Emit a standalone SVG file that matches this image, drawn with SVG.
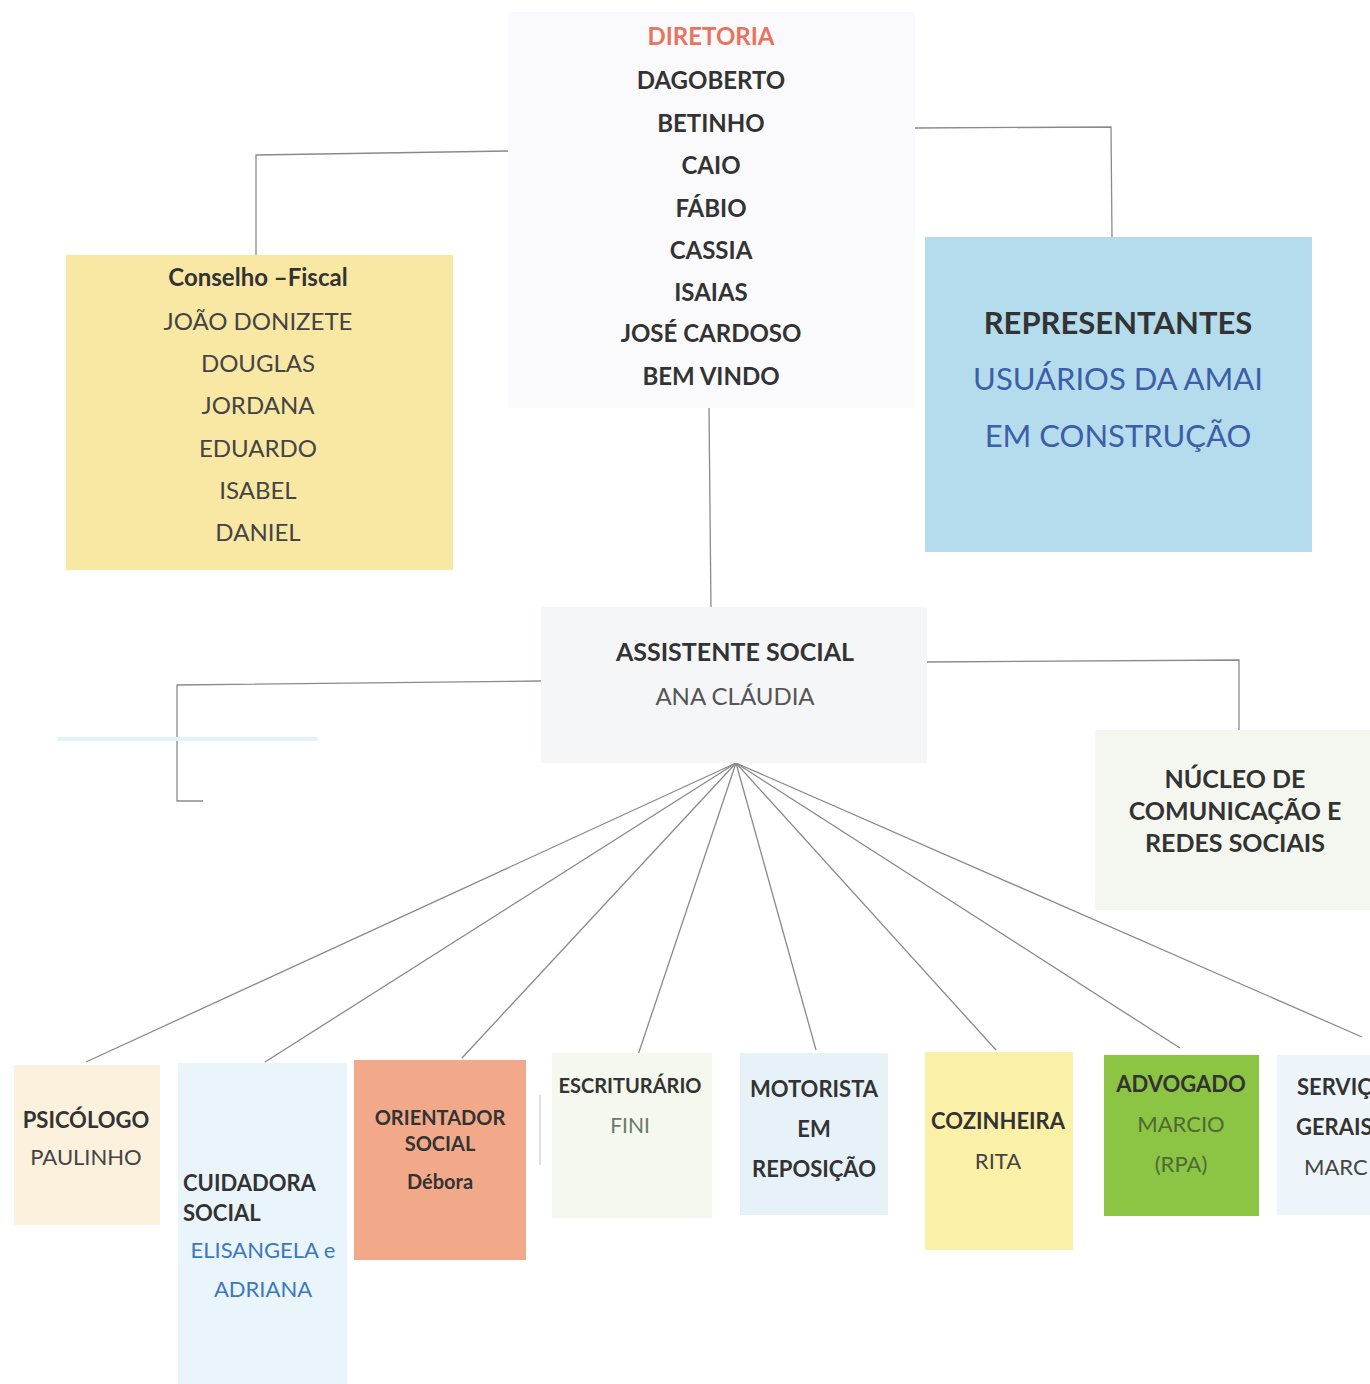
<svg xmlns="http://www.w3.org/2000/svg" width="1370" height="1384" viewBox="0 0 1370 1384">
<style>
text{font-family:Lato,"Open Sans","Liberation Sans",sans-serif;fill:#333;}
.c{text-anchor:middle;}
.b{font-weight:bold;}
.r{font-weight:normal;fill:#444;}
.f22{font-size:22px;}
.f24{font-size:24px;}
.conn line,.conn polyline{stroke:#8a8a8a;stroke-width:1.3;fill:none;}
</style>
<rect width="1370" height="1384" fill="#ffffff"/>
<g class="conn" id="connectors">
<polyline points="508,151 256,155 256,255"/>
<polyline points="915,128 1111,127 1112,237"/>
<line x1="709" y1="408" x2="711" y2="610"/>
<polyline points="541,681 177,685 177,801 203,801"/>
<polyline points="927,662 1239,660 1239,730"/>
<line x1="736" y1="763" x2="86" y2="1062"/>
<line x1="736" y1="763" x2="265" y2="1062"/>
<line x1="736" y1="763" x2="462" y2="1058"/>
<line x1="736" y1="763" x2="638" y2="1055"/>
<line x1="736" y1="763" x2="816" y2="1050"/>
<line x1="736" y1="763" x2="996" y2="1050"/>
<line x1="736" y1="763" x2="1180" y2="1048"/>
<line x1="736" y1="763" x2="1362" y2="1037"/>
<line x1="540" y1="1095" x2="540" y2="1165" style="stroke:#d0d0d0"/>
<line x1="57" y1="739" x2="318" y2="739" style="stroke:#e2f4fa;stroke-width:4"/>
</g>
<g id="diretoria">
<rect x="508" y="12" width="407" height="396" fill="#fafafc"/>
<text class="c b" x="711" y="45" font-size="24" style="fill:#e9735e">DIRETORIA</text>
<text class="c b f24" x="711" y="89">DAGOBERTO</text>
<text class="c b f24" x="711" y="132">BETINHO</text>
<text class="c b f24" x="711" y="174">CAIO</text>
<text class="c b f24" x="711" y="217">FÁBIO</text>
<text class="c b f24" x="711" y="259">CASSIA</text>
<text class="c b f24" x="711" y="301">ISAIAS</text>
<text class="c b f24" x="711" y="342">JOSÉ CARDOSO</text>
<text class="c b f24" x="711" y="385">BEM VINDO</text>
</g>
<g id="conselho">
<rect x="66" y="255" width="387" height="315" fill="#f9e8a4"/>
<text class="c b f24" x="258" y="286">Conselho –Fiscal</text>
<text class="c r f24" x="258" y="330">JOÃO DONIZETE</text>
<text class="c r f24" x="258" y="372">DOUGLAS</text>
<text class="c r f24" x="258" y="414">JORDANA</text>
<text class="c r f24" x="258" y="457">EDUARDO</text>
<text class="c r f24" x="258" y="499">ISABEL</text>
<text class="c r f24" x="258" y="541">DANIEL</text>
</g>
<g id="representantes">
<rect x="925" y="237" width="387" height="315" fill="#b4dcec"/>
<text class="c b" x="1118" y="334" font-size="31">REPRESENTANTES</text>
<text class="c" x="1118" y="390" font-size="31" style="fill:#3d5ea8">USUÁRIOS DA AMAI</text>
<text class="c" x="1118" y="447" font-size="31" style="fill:#3d5ea8">EM CONSTRUÇÃO</text>
</g>
<g id="assistente">
<rect x="541" y="607" width="386" height="156" fill="#f4f6f8"/>
<text class="c b" x="735" y="661" font-size="25">ASSISTENTE SOCIAL</text>
<text class="c r f24" x="735" y="705" style="fill:#555">ANA CLÁUDIA</text>
</g>
<g id="nucleo">
<rect x="1095" y="730" width="275" height="180" fill="#f3f7ef"/>
<text class="c b" x="1235" y="788" font-size="25">NÚCLEO DE</text>
<text class="c b" x="1235" y="820" font-size="25">COMUNICAÇÃO E</text>
<text class="c b" x="1235" y="852" font-size="25">REDES SOCIAIS</text>
</g>
<g id="psicologo">
<rect x="14" y="1065" width="146" height="160" fill="#fbf1dc"/>
<text class="c b f22" x="86" y="1128">PSICÓLOGO</text>
<text class="c r f22" x="86" y="1165">PAULINHO</text>
</g>
<g id="cuidadora">
<rect x="178" y="1063" width="169" height="321" fill="#eaf4fb"/>
<text class="b f22" x="183" y="1191">CUIDADORA</text>
<text class="b f22" x="183" y="1221">SOCIAL</text>
<text class="c f22" x="263" y="1258" style="fill:#3c78c0">ELISANGELA e</text>
<text class="c f22" x="263" y="1297" style="fill:#3c78c0">ADRIANA</text>
</g>
<g id="orientador">
<rect x="354" y="1060" width="172" height="200" fill="#f2a98a"/>
<text class="c b" x="440" y="1125" font-size="20">ORIENTADOR</text>
<text class="c b" x="440" y="1151" font-size="20">SOCIAL</text>
<text class="c b" x="440" y="1189" font-size="20">Débora</text>
</g>
<g id="escriturario">
<rect x="552" y="1053" width="160" height="165" fill="#f4f8ee"/>
<text class="c b" x="630" y="1093" font-size="20">ESCRITURÁRIO</text>
<text class="c" x="630" y="1133" font-size="21" style="fill:#6a7a6a">FINI</text>
</g>
<g id="motorista">
<rect x="740" y="1053" width="148" height="162" fill="#e6f1f8"/>
<text class="c b f22" x="814" y="1097">MOTORISTA</text>
<text class="c b f22" x="814" y="1137">EM</text>
<text class="c b f22" x="814" y="1177">REPOSIÇÃO</text>
</g>
<g id="cozinheira">
<rect x="925" y="1052" width="148" height="198" fill="#fbf0a8"/>
<text class="c b f22" x="998" y="1129">COZINHEIRA</text>
<text class="c r f22" x="998" y="1169">RITA</text>
</g>
<g id="advogado">
<rect x="1104" y="1055" width="155" height="161" fill="#8cc443"/>
<text class="c b f22" x="1181" y="1092">ADVOGADO</text>
<text class="c f22" x="1181" y="1132" style="fill:#4f6a35">MARCIO</text>
<text class="c f22" x="1181" y="1172" style="fill:#4f6a35">(RPA)</text>
</g>
<g id="servicos">
<rect x="1277" y="1055" width="93" height="160" fill="#eef5fa"/>
<text class="b f22" x="1297" y="1095">SERVIÇ</text>
<text class="b f22" x="1296" y="1135">GERAIS</text>
<text class="r f22" x="1304" y="1175">MARC</text>
</g>
</svg>
